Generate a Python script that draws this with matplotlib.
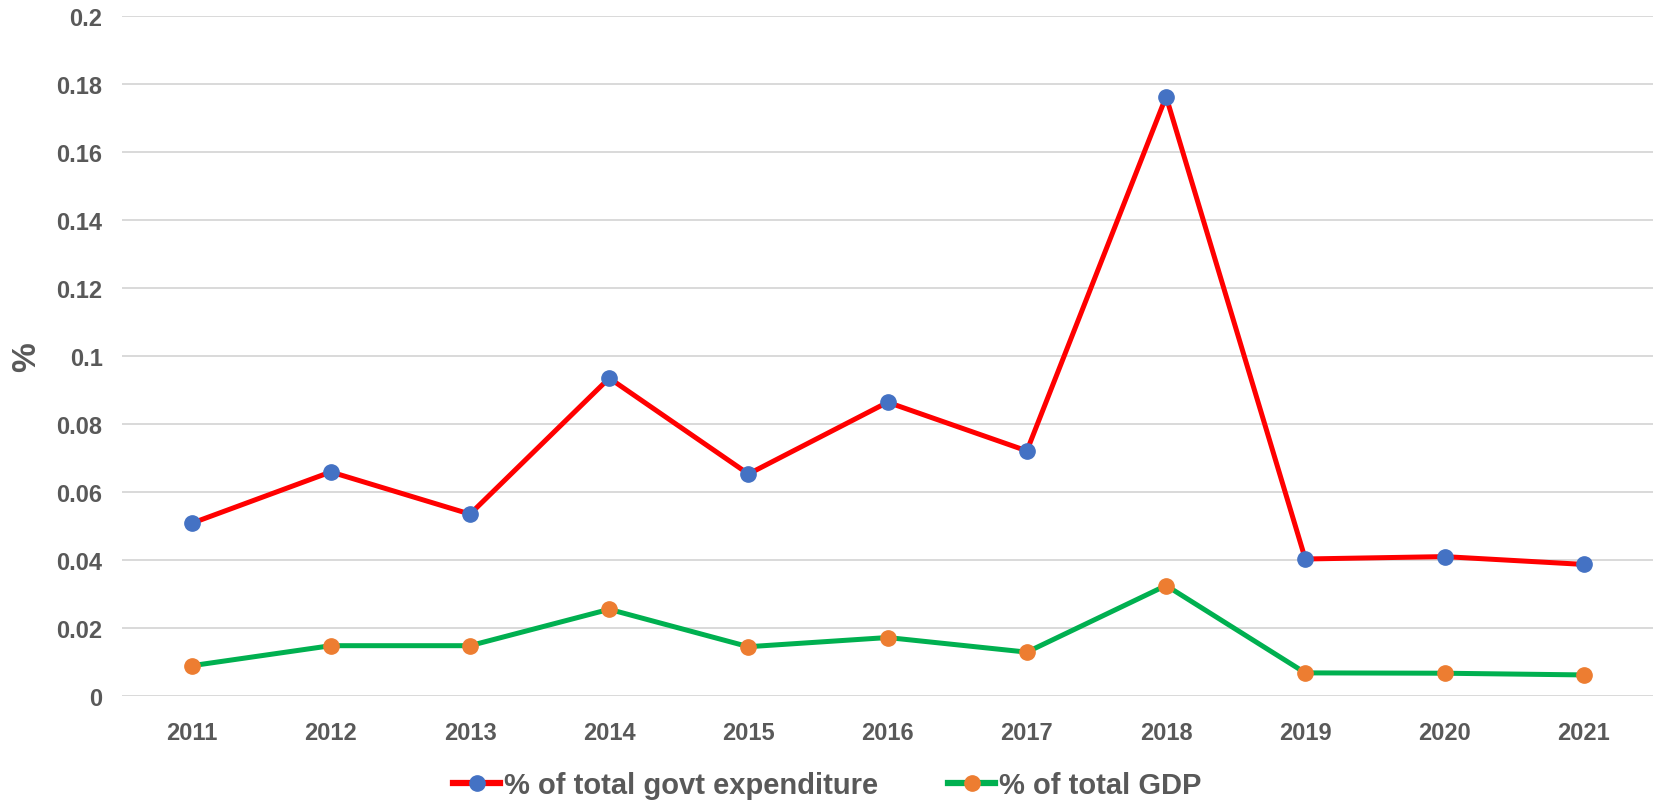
import matplotlib.pyplot as plt

years = ['2011', '2012', '2013', '2014', '2015', '2016', '2017', '2018', '2019', '2020', '2021']
pct_expenditure = [0.0508, 0.0659, 0.0535, 0.0935, 0.0653, 0.0864, 0.0721, 0.1763, 0.0403, 0.0410, 0.0387]
pct_gdp = [0.0089, 0.0148, 0.0148, 0.0255, 0.0145, 0.0172, 0.0129, 0.0325, 0.0068, 0.0067, 0.0062]

plt.rcParams['font.family'] = ['Liberation Sans', 'DejaVu Sans']
text_color = '#595959'

fig = plt.figure(figsize=(16.55, 8.03), dpi=100)
ax = fig.add_axes([0.0737, 0.132, 0.9253, 0.8468])

x = list(range(len(years)))
ax.plot(x, pct_expenditure, color='#FF0000', linewidth=3.6, marker='o', markersize=11,
        markerfacecolor='#4472C4', markeredgecolor='#4472C4', label='% of total govt expenditure', zorder=3)
ax.plot(x, pct_gdp, color='#00B050', linewidth=3.6, marker='o', markersize=11,
        markerfacecolor='#ED7D31', markeredgecolor='#ED7D31', label='% of total GDP', zorder=3)

ax.set_xlim(-0.5, len(years) - 0.5)
ax.set_ylim(0, 0.2)
ax.set_xticks(x)
ax.set_xticklabels(years)
yticks = [0, 0.02, 0.04, 0.06, 0.08, 0.1, 0.12, 0.14, 0.16, 0.18, 0.2]
ax.set_yticks(yticks)
ax.set_yticklabels(['0' if v == 0 else f'{v:g}' for v in yticks])

ax.grid(axis='y', color='#D9D9D9', linewidth=1.4)
ax.set_axisbelow(True)
for s in ax.spines.values():
    s.set_visible(False)
ax.tick_params(axis='both', length=0, colors=text_color, labelsize=17)
ax.tick_params(axis='x', pad=18)
ax.tick_params(axis='y', pad=14)
for lbl in ax.get_xticklabels() + ax.get_yticklabels():
    lbl.set_fontweight('bold')

ax.set_ylabel('%', fontsize=24, fontweight='bold', color=text_color)
ax.yaxis.set_label_coords(-0.052, 0.5)

leg = fig.legend(loc='center', bbox_to_anchor=(0.5, 0.021), ncol=2, frameon=False,
                 fontsize=21, handlelength=1.6, handletextpad=0.15, columnspacing=2.4)
for t in leg.get_texts():
    t.set_color(text_color)
    t.set_fontweight('bold')
for h in leg.legend_handles:
    h.set_linewidth(4.5)

fig.savefig('out.png', dpi=100)
